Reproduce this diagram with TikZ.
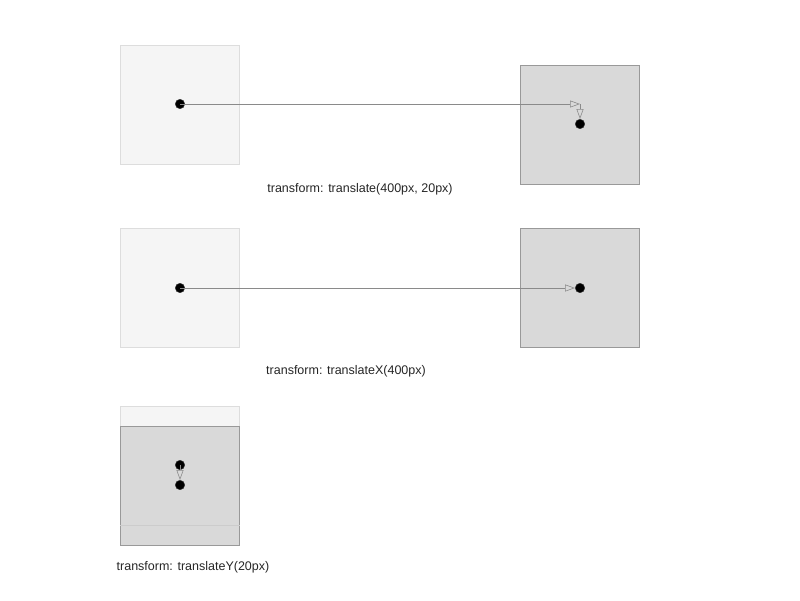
\documentclass[tikz,border=0pt]{standalone}
\usepackage{fontspec}
\setmainfont{Liberation Sans}
\usetikzlibrary{positioning,arrows.meta}
\definecolor{origfill}{HTML}{F5F5F5}
\definecolor{origdraw}{HTML}{DDDDDD}
\definecolor{movefill}{HTML}{D9D9D9}
\definecolor{movedraw}{HTML}{999999}
\definecolor{linegray}{HTML}{8A8A8A}
\begin{document}
\begin{tikzpicture}[x=1pt, y=-1pt,
    origbox/.style={rectangle, draw=origdraw, fill=origfill, line width=0.8pt, minimum size=119pt, inner sep=0pt},
    movebox/.style={rectangle, draw=movedraw, fill=movefill, line width=0.8pt, minimum size=119pt, inner sep=0pt},
    dot/.style={circle, fill=black, draw=black!80, minimum size=9.5pt, inner sep=0pt},
    move/.style={draw=linegray, line width=0.6pt, -{Triangle[open, length=10pt, width=7pt]}},
    caption/.style={font=\fontsize{12.5}{15}\selectfont, text=black!85}]

        \useasboundingbox (0,0) rectangle (800,600);

        % translate(400px, 20px)
        \node[origbox] (a1) at (180,104.5) {};
        \node[movebox] (b1) at (580,124.5) {};
        \node[dot] (p1) at (180,104) {};
        \node[dot] (q1) at (580,124) {};
        \coordinate (c1) at (580,104);
        \draw[move] (p1.center) -- (c1);
        \draw[move] (c1) -- (q1.north);
        \node[caption] (t1) at (360,189) {transform: translate(400px, 20px)};

        % translateX(400px)
        \node[origbox] (a2) at (180,287.5) {};
        \node[movebox] (b2) at (580,287.5) {};
        \node[dot] (p2) at (180,288) {};
        \node[dot] (q2) at (580,288) {};
        \draw[move] (p2.center) -- (q2.west);
        \node[caption] (t2) at (346,371) {transform: translateX(400px)};

        % translateY(20px)
        \node[origbox] (a3) at (180,465.5) {};
        \node[movebox] (b3) at (180,485.5) {};
        \draw[black!20, line width=0.8pt] (a3.south west) -- (a3.south east);
        \node[dot] (p3) at (180,465) {};
        \node[dot] (q3) at (180,485) {};
        \draw[move] (p3.center) -- (q3.north);
        \node[caption] (t3) at (193,567) {transform: translateY(20px)};

        \end{tikzpicture}
\end{document}
